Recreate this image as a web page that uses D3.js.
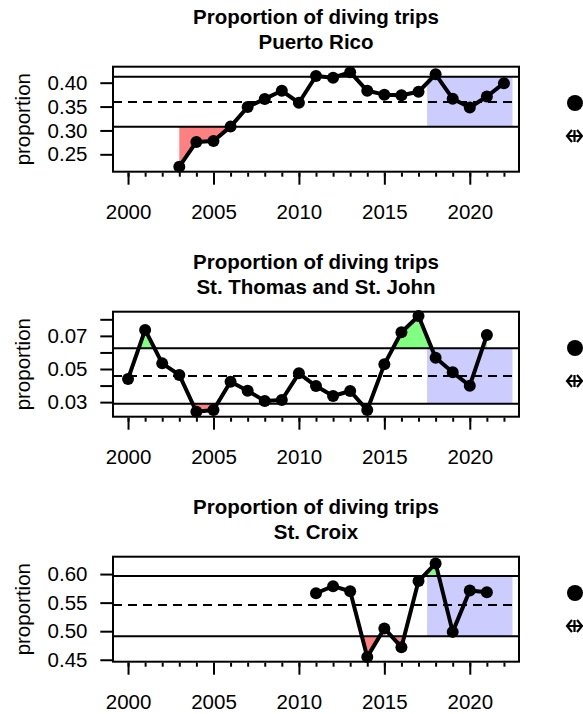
<!DOCTYPE html>
<html>
<head>
<meta charset="utf-8">
<script src="https://cdn.jsdelivr.net/npm/d3@7"></script>
<style>
  html, body { margin: 0; padding: 0; background: #ffffff; }
  svg { display: block; }
  text { font-family: "Liberation Sans", Arial, Helvetica, sans-serif; fill: #000; }
</style>
</head>
<body>
<script>
// ---------------- data ----------------
const mainTitle = "Proportion of diving trips";
const regionTitles = ["Puerto Rico", "St. Thomas and St. John", "St. Croix"];
const yAxisLabel = "proportion";

const xTickYears = d3.range(2000, 2023);
const xLabelYears = [2000, 2005, 2010, 2015, 2020];
const xLimits = [1999.12, 2022.88];
const recentWindow = [2017.5, 2022.5];

// Puerto Rico
const prYears  = [2003, 2004, 2005, 2006, 2007, 2008, 2009, 2010, 2011, 2012, 2013, 2014, 2015, 2016, 2017, 2018, 2019, 2020, 2021, 2022];
const prValues = [0.224, 0.276, 0.278, 0.308, 0.349, 0.366, 0.383, 0.358, 0.414, 0.4105, 0.422, 0.383, 0.375, 0.3736, 0.381, 0.4176, 0.3665, 0.348, 0.371, 0.399];
const prRef    = [0.3078, 0.3596, 0.4126];   // lower, mean, upper
const prYLim   = [0.2136, 0.4335];
const prYTicks = [0.25, 0.30, 0.35, 0.40];
const prYTickLabels = ["0.25", "0.30", "0.35", "0.40"];

// St. Thomas and St. John
const stYears  = [2000, 2001, 2002, 2003, 2004, 2005, 2006, 2007, 2008, 2009, 2010, 2011, 2012, 2013, 2014, 2015, 2016, 2017, 2018, 2019, 2020, 2021];
const stValues = [0.044, 0.0736, 0.0534, 0.0464, 0.0242, 0.0252, 0.0423, 0.0369, 0.0307, 0.0313, 0.0474, 0.0397, 0.0337, 0.0367, 0.0252, 0.0528, 0.0722, 0.082, 0.0568, 0.048, 0.0399, 0.0705];
const stRef    = [0.029, 0.0458, 0.0625];
const stYLim   = [0.0212, 0.0846];
const stYTicks = [0.03, 0.04, 0.05, 0.06, 0.07, 0.08];
const stYTickLabels = ["0.03", "", "0.05", "", "0.07", ""];

// St. Croix
const scYears  = [2011, 2012, 2013, 2014, 2015, 2016, 2017, 2018, 2019, 2020, 2021];
const scValues = [0.5664, 0.5788, 0.5699, 0.455, 0.5048, 0.472, 0.5877, 0.6187, 0.4988, 0.5712, 0.5682];
const scRef    = [0.4911, 0.5457, 0.5966];
const scYLim   = [0.4466, 0.6304];
const scYTicks = [0.45, 0.50, 0.55, 0.60];
const scYTickLabels = ["0.45", "0.50", "0.55", "0.60"];

// ---------------- drawing ----------------
const W = 583, H = 714;
const FONT = 20.5;
const box = { left: 113, right: 519, top: 66.7, bottom: 171.7 };
const panelStep = 245;

const svg = d3.select("body").append("svg")
  .attr("width", W).attr("height", H)
  .attr("viewBox", `0 0 ${W} ${H}`);

const panels = [
  { title: regionTitles[0], years: prYears, values: prValues, ref: prRef, ylim: prYLim, ticks: prYTicks, labels: prYTickLabels },
  { title: regionTitles[1], years: stYears, values: stValues, ref: stRef, ylim: stYLim, ticks: stYTicks, labels: stYTickLabels },
  { title: regionTitles[2], years: scYears, values: scValues, ref: scRef, ylim: scYLim, ticks: scYTicks, labels: scYTickLabels }
];

const x = d3.scaleLinear().domain(xLimits).range([box.left, box.right]);

panels.forEach((p, i) => {
  const g = svg.append("g").attr("transform", `translate(0,${i * panelStep})`);
  const y = d3.scaleLinear().domain(p.ylim).range([box.bottom, box.top]);
  const data = p.years.map((yr, k) => ({ year: yr, value: p.values[k] }));
  const [lower, mean, upper] = p.ref;
  const cx = (box.left + box.right) / 2;

  // titles
  g.append("text").attr("x", cx).attr("y", 24)
    .attr("text-anchor", "middle").style("font-weight", "bold").style("font-size", FONT + "px")
    .text(mainTitle);
  g.append("text").attr("x", cx).attr("y", 49)
    .attr("text-anchor", "middle").style("font-weight", "bold").style("font-size", FONT + "px")
    .text(p.title);

  // recent-years window
  g.append("rect")
    .attr("x", x(recentWindow[0])).attr("width", x(recentWindow[1]) - x(recentWindow[0]))
    .attr("y", y(upper)).attr("height", y(lower) - y(upper))
    .attr("fill", "#CCCCFF");

  // clip paths for above / below
  const defs = g.append("defs");
  defs.append("clipPath").attr("id", "above" + i).append("rect")
    .attr("x", box.left).attr("width", box.right - box.left)
    .attr("y", box.top - 20).attr("height", y(upper) - box.top + 20);
  defs.append("clipPath").attr("id", "below" + i).append("rect")
    .attr("x", box.left).attr("width", box.right - box.left)
    .attr("y", y(lower)).attr("height", box.bottom - y(lower) + 20);

  g.append("path").datum(data)
    .attr("clip-path", `url(#above${i})`)
    .attr("fill", "#80FF80")
    .attr("d", d3.area().x(d => x(d.year)).y0(y(upper)).y1(d => y(d.value)));
  g.append("path").datum(data)
    .attr("clip-path", `url(#below${i})`)
    .attr("fill", "#FF8080")
    .attr("d", d3.area().x(d => x(d.year)).y0(y(lower)).y1(d => y(d.value)));

  // reference lines
  [[lower, null], [mean, "9,6"], [upper, null]].forEach(([v, dash]) => {
    g.append("line")
      .attr("x1", box.left).attr("x2", box.right)
      .attr("y1", y(v)).attr("y2", y(v))
      .attr("stroke", "#000").attr("stroke-width", 2)
      .attr("stroke-dasharray", dash);
  });

  // data line + points
  g.append("path").datum(data)
    .attr("fill", "none").attr("stroke", "#000").attr("stroke-width", 4)
    .attr("stroke-linejoin", "round")
    .attr("d", d3.line().x(d => x(d.year)).y(d => y(d.value)));
  g.selectAll("circle.pt").data(data).join("circle")
    .attr("class", "pt")
    .attr("cx", d => x(d.year)).attr("cy", d => y(d.value)).attr("r", 6)
    .attr("fill", "#000");

  // box
  g.append("rect")
    .attr("x", box.left).attr("y", box.top)
    .attr("width", box.right - box.left).attr("height", box.bottom - box.top)
    .attr("fill", "none").attr("stroke", "#000").attr("stroke-width", 2);

  // y axis
  const ya = g.append("g").attr("transform", `translate(${box.left},0)`)
    .call(d3.axisLeft(y).tickValues(p.ticks).tickSize(12.7).tickPadding(12.8)
      .tickFormat((d, k) => p.labels[k]));
  ya.select(".domain").remove();
  ya.selectAll(".tick line").attr("stroke", "#000").attr("stroke-width", 2);
  ya.selectAll(".tick text").style("font-size", FONT + "px")
    .style("font-family", '"Liberation Sans", Arial, sans-serif').attr("fill", "#000");

  // x axis: minor ticks
  const xm = g.append("g").attr("transform", `translate(0,${box.bottom + 1})`)
    .call(d3.axisBottom(x).tickValues(xTickYears).tickSize(4).tickFormat(""));
  xm.select(".domain").remove();
  xm.selectAll(".tick line").attr("stroke", "#000").attr("stroke-width", 2);
  // major ticks with labels
  const xa = g.append("g").attr("transform", `translate(0,${box.bottom + 1})`)
    .call(d3.axisBottom(x).tickValues(xLabelYears).tickSize(12).tickPadding(19.5).tickFormat(d3.format("d")));
  xa.select(".domain").remove();
  xa.selectAll(".tick line").attr("stroke", "#000").attr("stroke-width", 2);
  xa.selectAll(".tick text").style("font-size", FONT + "px")
    .style("font-family", '"Liberation Sans", Arial, sans-serif').attr("fill", "#000");

  // y label
  g.append("text")
    .attr("transform", `translate(22,${(box.top + box.bottom) / 2}) rotate(-90)`)
    .attr("text-anchor", "middle").attr("dominant-baseline", "central")
    .style("font-size", FONT + "px")
    .text(yAxisLabel);

  // partially visible legend at right edge
  g.append("circle").attr("cx", 575).attr("cy", 103).attr("r", 8).attr("fill", "#000");
  g.append("path")
    .attr("d", "M567,136 L582,136 M572,130 L567,136 L572,142 M577,130 L582,136 L577,142 M574.5,130 L574.5,142")
    .attr("fill", "none").attr("stroke", "#000").attr("stroke-width", 2.2);
});
</script>
</body>
</html>
